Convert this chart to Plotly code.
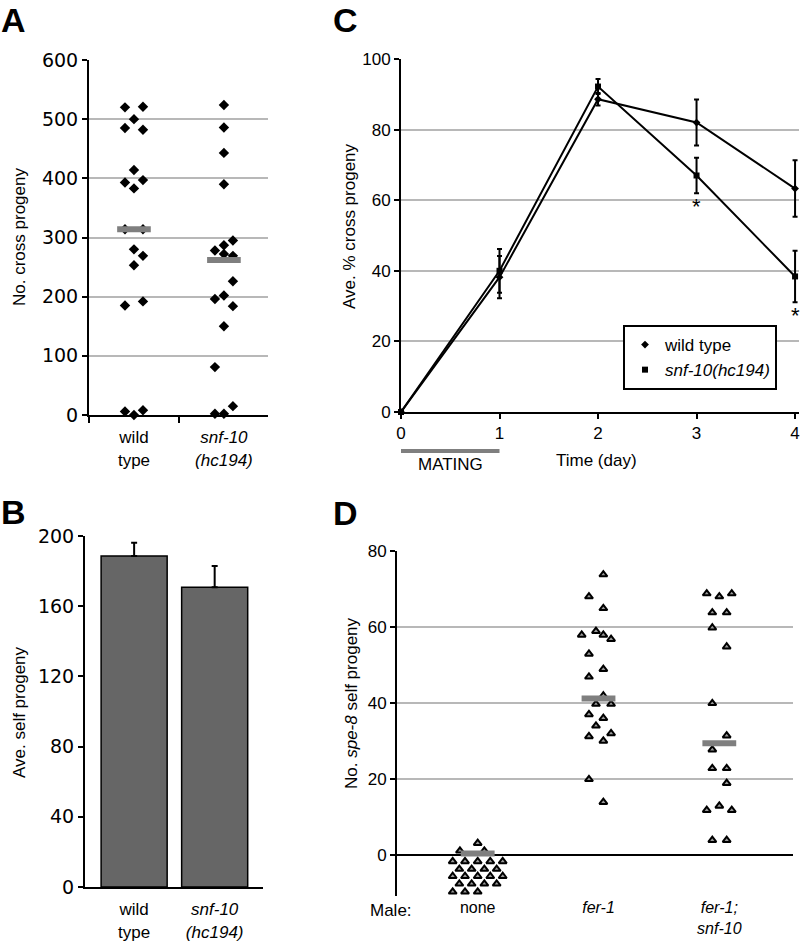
import plotly.graph_objects as go

FONT = "Liberation Sans, Arial, sans-serif"
W, H = 800, 942

# ---------------- Panel A data ----------------
a_categories = ["wild<br>type", "<i>snf-10</i><br><i>(hc194)</i>"]
a_wt_x_offset = [-0.1, 0.1, 0, -0.1, 0.1, 0, -0.1, 0.1, 0, -0.1, 0.1, 0, 0.1, 0, -0.1, 0.1, -0.1, 0, 0.1]
a_wt_values = [520, 521, 500, 485, 482, 414, 393, 397, 383, 314, 314, 280, 269, 253, 185, 192, 6, 0, 8]
a_snf_x_offset = [0, 0, 0, 0, -0.1, 0, 0.1, 0, 0.1, 0.1, -0.1, 0, 0.1, 0, -0.1, 0.1, -0.1, 0]
a_snf_values = [524, 486, 443, 390, 278, 287, 295, 272, 269, 226, 196, 202, 184, 150, 81, 15, 2, 2]
a_center_lines = [314, 262]

# ---------------- Panel B data ----------------
b_categories = ["wild<br>type", "<i>snf-10</i><br><i>(hc194)</i>"]
b_values = [188.6, 170.8]
b_errors = [7.6, 12.1]

# ---------------- Panel C data ----------------
c_days = [0, 1, 2, 3, 4]
c_wt_mean = [0, 38.2, 88.6, 82.0, 63.3]
c_wt_err = [0, 6.0, 1.8, 6.5, 8.0]
c_snf_mean = [0, 40.0, 92.2, 67.0, 38.4]
c_snf_err = [0, 6.2, 2.1, 5.0, 7.3]
c_significant_days = [3, 4]
c_mating_period = [0, 1]

# ---------------- Panel D data ----------------
d_categories = ["none", "<i>fer-1</i>", "<i>fer-1;</i><br><i>snf-10</i>"]
d_none_x_offset = [-0.147, 0, 0.055,
                   -0.207, -0.105, 0, 0.104, 0.207,
                   -0.152, -0.05, 0.055, 0.157,
                   -0.207, -0.105, 0, 0.104, 0.207,
                   -0.152, -0.05, 0.055, 0.157,
                   -0.207, -0.105, 0]
d_none_values = [1.1, 3.1, 1.1,
                 -1.7, -1.7, -1.7, -1.7, -1.7,
                 -3.7, -3.7, -3.7, -3.7,
                 -5.6, -5.6, -5.6, -5.6, -5.6,
                 -7.6, -7.6, -7.6, -7.6,
                 -9.7, -9.7, -9.7]
d_fer1_x_offset = [0.04, -0.079, 0.04, -0.139, -0.021, 0.04, 0.104, -0.079, 0.04, -0.079,
                   0.04, -0.021, 0.104, -0.079, 0.04, -0.021, -0.079, 0.104, 0.04, -0.079, 0.04]
d_fer1_values = [73.8, 68.0, 64.9, 57.9, 58.9, 57.9, 56.8, 52.9, 48.9, 46.9,
                 41.9, 39.7, 39.7, 37.0, 36.0, 34.0, 31.2, 32.0, 30.0, 19.9, 13.9]
d_fersnf_x_offset = [-0.104, 0, 0.103, -0.058, 0.061, -0.058, 0.061, -0.058, 0.061, -0.058,
                     -0.058, 0.061, 0.061, -0.104, 0, 0.103, -0.058, 0.061]
d_fersnf_values = [68.8, 68.0, 68.8, 63.8, 63.8, 59.8, 54.8, 39.9, 31.4, 27.7,
                   22.8, 22.8, 18.9, 11.8, 12.9, 11.8, 3.9, 3.9]
d_center_lines = [0.4, 41.2, 29.4]


def px_x(p):
    return p / W


def px_y(p):
    return 1 - p / H


fig = go.Figure()

# ---------- Panel A ----------
fig.add_trace(go.Scatter(
    x=[1 + o for o in a_wt_x_offset], y=a_wt_values, mode="markers",
    marker=dict(symbol="diamond", size=8, color="black"),
    xaxis="x", yaxis="y", showlegend=False, cliponaxis=False))
fig.add_trace(go.Scatter(
    x=[2 + o for o in a_snf_x_offset], y=a_snf_values, mode="markers",
    marker=dict(symbol="diamond", size=8, color="black"),
    xaxis="x", yaxis="y", showlegend=False, cliponaxis=False))
for i, m in enumerate(a_center_lines):
    c = i + 1
    fig.add_trace(go.Scatter(
        x=[c - 0.187, c + 0.187], y=[m, m], mode="lines",
        line=dict(color="#7f7f7f", width=6),
        xaxis="x", yaxis="y", showlegend=False, hoverinfo="skip"))

# ---------- Panel B ----------
fig.add_trace(go.Bar(
    x=[1, 2], y=b_values, width=0.82,
    marker=dict(color="#666666", line=dict(color="black", width=1.5)),
    error_y=dict(type="data", symmetric=False, array=b_errors,
                 arrayminus=[0, 0], color="black", thickness=2, width=3),
    xaxis="x2", yaxis="y2", showlegend=False))

# ---------- Panel C ----------
fig.add_trace(go.Scatter(
    x=c_days, y=c_wt_mean, mode="lines+markers",
    line=dict(color="black", width=2),
    marker=dict(symbol="diamond", size=6, color="black"),
    error_y=dict(type="data", array=c_wt_err, color="black", thickness=2, width=2.5),
    xaxis="x3", yaxis="y3", showlegend=False, cliponaxis=False))
fig.add_trace(go.Scatter(
    x=c_days, y=c_snf_mean, mode="lines+markers",
    line=dict(color="black", width=2),
    marker=dict(symbol="square", size=6, color="black"),
    error_y=dict(type="data", array=c_snf_err, color="black", thickness=2, width=2.5),
    xaxis="x3", yaxis="y3", showlegend=False, cliponaxis=False))
# legend entries (marker only, as in the reference)
fig.add_trace(go.Scatter(
    x=[None], y=[None], mode="markers", name="wild type",
    marker=dict(symbol="diamond", size=6, color="black"),
    xaxis="x3", yaxis="y3", showlegend=True))
fig.add_trace(go.Scatter(
    x=[None], y=[None], mode="markers", name="<i>snf-10(hc194)</i>",
    marker=dict(symbol="square", size=6, color="black"),
    xaxis="x3", yaxis="y3", showlegend=True))

# ---------- Panel D ----------
tri = dict(symbol="triangle-up", size=7, color="#9a9a9a", line=dict(color="black", width=2))
fig.add_trace(go.Scatter(
    x=[1 + o for o in d_none_x_offset], y=d_none_values, mode="markers", marker=tri,
    xaxis="x4", yaxis="y4", showlegend=False, cliponaxis=False))
fig.add_trace(go.Scatter(
    x=[2 + o for o in d_fer1_x_offset], y=d_fer1_values, mode="markers", marker=tri,
    xaxis="x4", yaxis="y4", showlegend=False, cliponaxis=False))
fig.add_trace(go.Scatter(
    x=[3 + o for o in d_fersnf_x_offset], y=d_fersnf_values, mode="markers", marker=tri,
    xaxis="x4", yaxis="y4", showlegend=False, cliponaxis=False))
for i, m in enumerate(d_center_lines):
    c = i + 1
    fig.add_trace(go.Scatter(
        x=[c - 0.14, c + 0.14], y=[m, m], mode="lines",
        line=dict(color="#7f7f7f", width=6),
        xaxis="x4", yaxis="y4", showlegend=False, hoverinfo="skip", cliponaxis=False))

tickfont = dict(family=FONT, size=17, color="black")
dfont = dict(family=FONT, size=16, color="black")
widefont = dict(family="DejaVu Sans, Verdana, sans-serif", size=19, color="black")
GRID = "#b8b8b8"
common = dict(automargin=False, fixedrange=True)

fig.update_layout(
    width=W, height=H, autosize=False,
    margin=dict(l=0, r=0, t=0, b=0, pad=0),
    paper_bgcolor="white", plot_bgcolor="white",
    font=dict(family=FONT, size=17, color="black"),
    showlegend=True,
    legend=dict(x=px_x(623), y=px_y(325), xanchor="left", yanchor="top",
                bordercolor="black", borderwidth=2, bgcolor="white",
                font=dict(family=FONT, size=17, color="black"),
                tracegroupgap=0),
    # A
    xaxis=dict(domain=[px_x(89), px_x(268)], anchor="y", range=[0.5, 2.49],
               tickmode="array", tickvals=[1, 2], ticktext=a_categories,
               ticks="outside", ticklen=6, tickcolor="rgba(0,0,0,0)",
               minor=dict(tick0=0.5, dtick=1, ticks="outside", ticklen=6,
                          tickwidth=2, tickcolor="black", showgrid=False),
               showline=True, linecolor="black", linewidth=2,
               showgrid=False, zeroline=False, tickfont=tickfont, **common),
    yaxis=dict(domain=[px_y(415), px_y(60)], anchor="x", range=[0, 600],
               tickmode="linear", tick0=0, dtick=100,
               ticks="outside", ticklen=5, tickwidth=2, tickcolor="black",
               showline=True, linecolor="black", linewidth=2,
               showgrid=True, gridcolor=GRID, gridwidth=1.5, zeroline=False,
               tickfont=widefont, **common),
    # B
    xaxis2=dict(domain=[px_x(85), px_x(263)], anchor="y2", range=[0.39, 2.6],
                tickmode="array", tickvals=[1, 2], ticktext=b_categories,
                ticks="outside", ticklen=6, tickcolor="rgba(0,0,0,0)",
                showline=True, linecolor="black", linewidth=2,
                showgrid=False, zeroline=False, tickfont=tickfont, **common),
    yaxis2=dict(domain=[px_y(887), px_y(536)], anchor="x2", range=[0, 200],
                tickmode="linear", tick0=0, dtick=40,
                ticks="outside", ticklen=5, tickwidth=2, tickcolor="black",
                showline=True, linecolor="black", linewidth=2,
                showgrid=False, zeroline=False, tickfont=widefont, **common),
    # C
    xaxis3=dict(domain=[px_x(401), px_x(799)], anchor="y3", range=[0, 4.04],
                tickmode="linear", tick0=0, dtick=1,
                ticks="outside", ticklen=5, tickwidth=2, tickcolor="black",
                showline=True, linecolor="black", linewidth=2,
                showgrid=False, zeroline=False, tickfont=tickfont, **common),
    yaxis3=dict(domain=[px_y(412), px_y(59)], anchor="x3", range=[0, 100],
                tickmode="linear", tick0=0, dtick=20,
                ticks="outside", ticklen=5, tickwidth=2, tickcolor="black",
                showline=True, linecolor="black", linewidth=2,
                showgrid=True, gridcolor=GRID, gridwidth=1.5, zeroline=False,
                tickfont=tickfont, **common),
    # D
    xaxis4=dict(domain=[px_x(397), px_x(793)], anchor="y4", range=[0.332, 3.61],
                tickmode="array", tickvals=[1, 2, 3], ticktext=d_categories,
                ticks="",
                showline=False, showgrid=False, zeroline=False, tickfont=dfont, **common),
    yaxis4=dict(domain=[px_y(896), px_y(551)], anchor="x4", range=[-10.8, 80],
                tickmode="array", tickvals=[0, 20, 40, 60, 80],
                ticks="outside", ticklen=5, tickwidth=2, tickcolor="black",
                showline=True, linecolor="black", linewidth=2,
                showgrid=True, gridcolor=GRID, gridwidth=1.5,
                zeroline=True, zerolinecolor="black", zerolinewidth=2,
                tickfont=tickfont, **common),
)

# Mating period bar under panel C
fig.add_shape(type="line", xref="x3", yref="paper",
              x0=c_mating_period[0], x1=c_mating_period[1],
              y0=px_y(451), y1=px_y(451),
              line=dict(color="#7f7f7f", width=4))

annotations = [
    # panel letters
    dict(text="<b>A</b>", x=px_x(13), y=px_y(20)),
    dict(text="<b>B</b>", x=px_x(13), y=px_y(512)),
    dict(text="<b>C</b>", x=px_x(345), y=px_y(20)),
    dict(text="<b>D</b>", x=px_x(345), y=px_y(513)),
]
for a in annotations:
    a.update(xref="paper", yref="paper", showarrow=False,
             xanchor="center", yanchor="middle",
             font=dict(family=FONT, size=34, color="black"))

ytitles = [
    ("No. cross progeny", 19, 237),
    ("Ave. self progeny", 19, 712),
    ("Ave. % cross progeny", 350, 226),
    ("No. <i>spe-8</i> self progeny", 351, 703),
]
for t, x, y in ytitles:
    annotations.append(dict(text=t, x=px_x(x), y=px_y(y), xref="paper", yref="paper",
                            showarrow=False, textangle=-90,
                            xanchor="center", yanchor="middle",
                            font=dict(family=FONT, size=17, color="black")))

annotations.append(dict(text="Time (day)", x=px_x(596), y=px_y(460), xref="paper", yref="paper",
                        showarrow=False, xanchor="center", yanchor="middle",
                        font=dict(family=FONT, size=17, color="black")))
annotations.append(dict(text="MATING", x=sum(c_mating_period) / 2, y=px_y(464),
                        xref="x3", yref="paper",
                        showarrow=False, xanchor="center", yanchor="middle",
                        font=dict(family=FONT, size=17, color="black")))
annotations.append(dict(text="Male:", x=px_x(391), y=px_y(910), xref="paper", yref="paper",
                        showarrow=False, xanchor="center", yanchor="middle",
                        font=dict(family=FONT, size=17, color="black")))
for d in c_significant_days:
    annotations.append(dict(text="*", x=d, y=c_snf_mean[d] - c_snf_err[d],
                            xref="x3", yref="y3", showarrow=False,
                            xanchor="center", yanchor="middle", yshift=-13,
                            font=dict(family=FONT, size=22, color="black")))

fig.update_layout(annotations=annotations)

fig.write_html("out.html", config={"displayModeBar": False},
               post_script="document.body.style.margin='0';")
